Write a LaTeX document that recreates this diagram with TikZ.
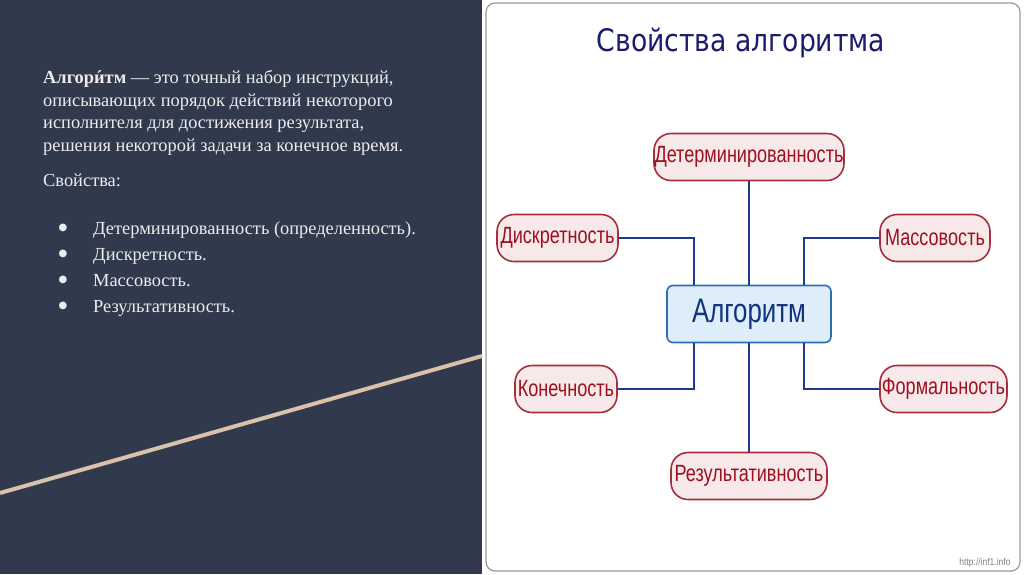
\documentclass[tikz,border=0pt]{standalone}
\usepackage{fontspec}
\setmainfont{Liberation Serif}
\newfontfamily\nodefont{Liberation Sans}
\newfontfamily\titlefont{DejaVu Sans}
\newfontfamily\symfont{DejaVu Sans}
\newcommand\acci{\ooalign{и\cr\hidewidth ´\hidewidth\cr}}
\definecolor{bgnavy}{HTML}{313A4D}
\definecolor{lefttext}{HTML}{ECECEC}
\definecolor{diag}{HTML}{D9C2A8}
\definecolor{propfill}{HTML}{F7E9E9}
\definecolor{propborder}{HTML}{A4303E}
\definecolor{proptext}{HTML}{9C1020}
\definecolor{algfill}{HTML}{DDEDFA}
\definecolor{algborder}{HTML}{2F6DB3}
\definecolor{algtext}{HTML}{12337E}
\definecolor{connc}{HTML}{1D3B8C}
\definecolor{titlec}{HTML}{1C1C6C}
\definecolor{framec}{HTML}{9A9A9A}
\begin{document}
\begin{tikzpicture}[x=1pt,y=-1pt,
  prop/.style={draw=propborder, line width=1.6pt, fill=propfill, rounded corners=17pt,
    minimum height=47pt, inner sep=0pt, text=proptext,
    font=\nodefont\fontsize{23.5}{23.5}\selectfont},
  algbox/.style={draw=algborder, line width=1.6pt, fill=algfill, rounded corners=6pt,
    minimum width=164pt, minimum height=57pt, inner sep=0pt, text=algtext,
    font=\nodefont\fontsize{34}{34}\selectfont},
  conn/.style={draw=connc, line width=2.4pt},
  ltext/.style={anchor=base west, inner sep=0pt, text=lefttext,
    font=\fontsize{18.4}{18.4}\selectfont},
  bul/.style={anchor=center, inner sep=0pt, text=lefttext,
    font=\symfont\fontsize{10}{10}\selectfont}
]
\useasboundingbox (0,0) rectangle (1024,574);
% backgrounds
\fill[bgnavy] (0,0) rectangle (1024,574);
\fill[white] (482,0) rectangle (1024,574);
\draw[framec, line width=1.2pt, rounded corners=9pt] (486,3) rectangle (1020,571);
\draw[diag, line width=4pt] (0,493) -- (482,356);

% left text
\node[ltext] (l1) at (43,83) {\textbf{Алгор\acci тм} — это точный набор инструкций,};
\node[ltext] (l2) at (43,106) {описывающих порядок действий некоторого};
\node[ltext] (l3) at (43,128.5) {исполнителя для достижения результата,};
\node[ltext] (l4) at (43,151) {решения некоторой задачи за конечное время.};
\node[ltext] (l5) at (43,186) {Свойства:};
\node[bul] (b1) at (63,228) {●};
\node[bul] (b2) at (63,254) {●};
\node[bul] (b3) at (63,280) {●};
\node[bul] (b4) at (63,306) {●};
\node[ltext] (t1) at (93,234) {Детерминированность (определенность).};
\node[ltext] (t2) at (93,260) {Дискретность.};
\node[ltext] (t3) at (93,286) {Массовость.};
\node[ltext] (t4) at (93,312) {Результативность.};

% title
\node[inner sep=0pt, text=titlec, font=\titlefont\fontsize{31}{31}\selectfont] (title) at (741,43)
  {\scalebox{0.86}[1]{Свойства алгоритма}};

% nodes
\node[algbox] (alg) at (749,314) {\scalebox{0.76}[1]{Алгоритм}};
\node[prop, minimum width=190pt] (det) at (749,157) {\scalebox{0.77}[1]{Детерминированность}};
\node[prop, minimum width=121pt] (dis) at (557.5,238) {\scalebox{0.77}[1]{Дискретность}};
\node[prop, minimum width=110pt] (mas) at (935,238) {\scalebox{0.77}[1]{Массовость}};
\node[prop, minimum width=102pt] (kon) at (566,389) {\scalebox{0.77}[1]{Конечность}};
\node[prop, minimum width=127pt] (for) at (943.5,389) {\scalebox{0.77}[1]{Формальность}};
\node[prop, minimum width=156pt] (res) at (749,476) {\scalebox{0.77}[1]{Результативность}};

% connectors
\draw[conn] (det.south) -- (alg.north);
\draw[conn] (alg.south) -- (res.north);
\draw[conn] (dis.east) -| ([xshift=28pt]alg.north west);
\draw[conn] (mas.west) -| ([xshift=-28pt]alg.north east);
\draw[conn] (kon.east) -| ([xshift=28pt]alg.south west);
\draw[conn] (for.west) -| ([xshift=-28pt]alg.south east);

% source
\node[inner sep=0pt, text=gray, font=\nodefont\fontsize{10}{10}\selectfont] (src) at (985,563) {\scalebox{0.85}[1]{http://inf1.info}};
\end{tikzpicture}
\end{document}
